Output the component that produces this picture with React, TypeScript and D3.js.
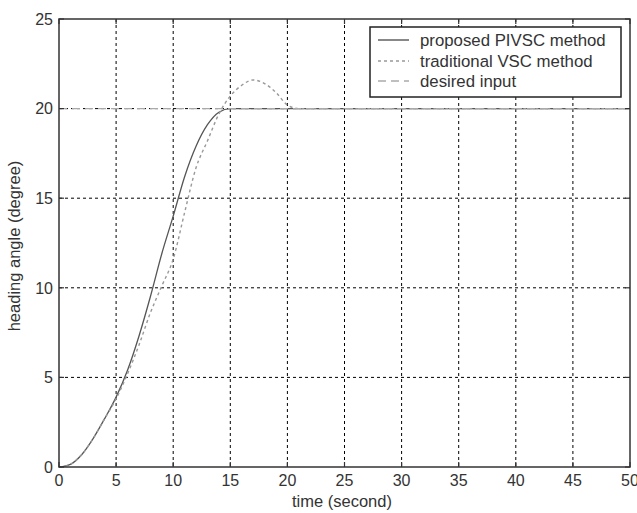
import React from "react";
import * as d3 from "d3";

const time = [0,1,2,3,4,5,6,7,8,9,10,11,12,13,14,15,16,17,18,19,20,21,22,25,30,35,40,45,50];
const proposed = [0,0.15,0.7,1.6,2.7,3.9,5.4,7.3,9.5,11.9,14.0,16.2,17.9,19.1,19.8,20,20,20,20,20,20,20,20,20,20,20,20,20,20];
const traditional = [0,0.15,0.7,1.6,2.7,3.8,5.2,6.8,8.6,10.1,11.6,14.2,16.7,18.2,19.7,20.7,21.3,21.6,21.4,20.9,20.2,20.0,20,20,20,20,20,20,20];
const desiredTime = [0,50];
const desired = [20,20];
const xTicks = [0,5,10,15,20,25,30,35,40,45,50];
const yTicks = [0,5,10,15,20,25];
const legendLabels = ["proposed PIVSC method","traditional VSC method","desired input"];

const W = 637, H = 513;
const L = 59, R = 630, T = 19, B = 467;

export default function App() {
  const x = d3.scaleLinear().domain([0,50]).range([L,R]);
  const y = d3.scaleLinear().domain([0,25]).range([B,T]);
  const line = d3.line<[number,number]>().x(d=>x(d[0])).y(d=>y(d[1])).curve(d3.curveMonotoneX);
  const pPath = line(time.map((t,i)=>[t,proposed[i]]))!;
  const tPath = line(time.map((t,i)=>[t,traditional[i]]))!;
  const dPath = line(desiredTime.map((t,i)=>[t,desired[i]]))!;
  const font = "Arial, 'Liberation Sans', sans-serif";
  const styles = [
    {stroke:"#555", dash:"none"},
    {stroke:"#999", dash:"3,3"},
    {stroke:"#aaa", dash:"8,5"},
  ];
  const legendY = [40,61,81];
  return (
    <svg width={W} height={H} style={{position:"absolute",left:0,top:0,background:"#fff"}} fontFamily={font}>
      <rect x={0} y={0} width={W} height={H} fill="#fff"/>
      {xTicks.slice(1,-1).map(t=>(
        <line key={"gx"+t} x1={x(t)} x2={x(t)} y1={T} y2={B} stroke="#000" strokeWidth={1} strokeDasharray="3,3"/>
      ))}
      {yTicks.slice(1,-1).map(t=>(
        <line key={"gy"+t} x1={L} x2={R} y1={y(t)} y2={y(t)} stroke="#000" strokeWidth={1} strokeDasharray="3,3"/>
      ))}
      <path d={pPath} fill="none" stroke={styles[0].stroke} strokeWidth={1.3}/>
      <path d={tPath} fill="none" stroke={styles[1].stroke} strokeWidth={1.4} strokeDasharray={styles[1].dash}/>
      <path d={dPath} fill="none" stroke={styles[2].stroke} strokeWidth={1.4} strokeDasharray={styles[2].dash}/>
      <rect x={L} y={T} width={R-L} height={B-T} fill="none" stroke="#333" strokeWidth={1.5}/>
      {xTicks.map(t=>(
        <g key={"tx"+t}>
          <line x1={x(t)} x2={x(t)} y1={B} y2={B-5} stroke="#333" strokeWidth={1.2}/>
          <line x1={x(t)} x2={x(t)} y1={T} y2={T+5} stroke="#333" strokeWidth={1.2}/>
          <text x={x(t)} y={486} fontSize={16} textAnchor="middle" fill="#333">{t}</text>
        </g>
      ))}
      {yTicks.map(t=>(
        <g key={"ty"+t}>
          <line x1={L} x2={L+5} y1={y(t)} y2={y(t)} stroke="#333" strokeWidth={1.2}/>
          <line x1={R} x2={R-5} y1={y(t)} y2={y(t)} stroke="#333" strokeWidth={1.2}/>
          <text x={L-6} y={y(t)} dy="0.36em" fontSize={16} textAnchor="end" fill="#333">{t}</text>
        </g>
      ))}
      <text x={342} y={507} fontSize={16.5} textAnchor="middle" fill="#333">time (second)</text>
      <text transform={`translate(20,246) rotate(-90)`} fontSize={16.5} textAnchor="middle" fill="#333">heading angle (degree)</text>
      <rect x={370} y={27} width={251} height={70} fill="#fff" stroke="#222" strokeWidth={1.5}/>
      {legendLabels.map((lab,i)=>(
        <g key={lab}>
          <line x1={378} x2={409} y1={legendY[i]} y2={legendY[i]} stroke={styles[i].stroke} strokeWidth={1.4} strokeDasharray={styles[i].dash}/>
          <text x={420} y={legendY[i]} dy="0.36em" fontSize={16.8} fill="#333">{lab}</text>
        </g>
      ))}
    </svg>
  );
}
